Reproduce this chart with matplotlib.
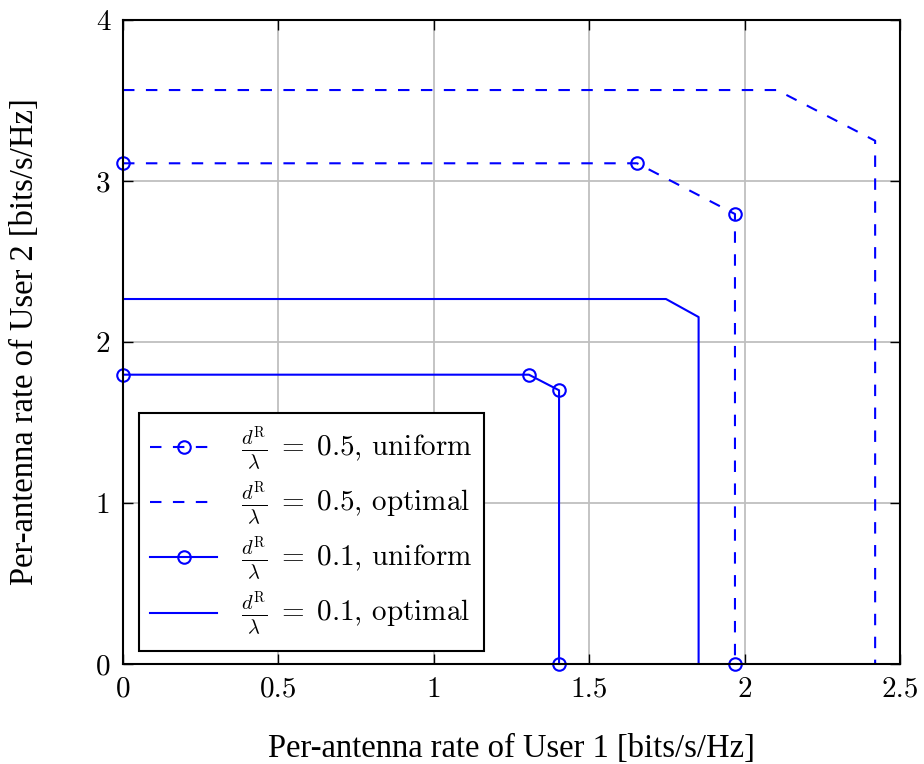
import matplotlib
matplotlib.use('Agg')
import matplotlib.pyplot as plt

plt.rcParams['mathtext.fontset'] = 'cm'
plt.rcParams['axes.formatter.use_mathtext'] = True

# rate regions, x = user 1, y = user 2
u05_x = [0.0, 1.654, 1.969, 1.969]
u05_y = [3.11, 3.11, 2.795, 0.0]
o05_x = [0.0, 2.104, 2.42, 2.42]
o05_y = [3.565, 3.565, 3.25, 0.0]
u01_x = [0.0, 1.306, 1.403, 1.403]
u01_y = [1.797, 1.797, 1.70, 0.0]
o01_x = [0.0, 1.747, 1.852, 1.852]
o01_y = [2.267, 2.267, 2.155, 0.0]

xticks = [0, 0.5, 1, 1.5, 2, 2.5]
xticklabels = ['0', '0.5', '1', '1.5', '2', '2.5']
yticks = [0, 1, 2, 3, 4]

labels = [r'$\frac{d^{\mathrm{R}}}{\lambda}\;=\;0.5$, uniform',
          r'$\frac{d^{\mathrm{R}}}{\lambda}\;=\;0.5$, optimal',
          r'$\frac{d^{\mathrm{R}}}{\lambda}\;=\;0.1$, uniform',
          r'$\frac{d^{\mathrm{R}}}{\lambda}\;=\;0.1$, optimal']

fig = plt.figure(figsize=(9.24, 7.64), dpi=100)
ax = fig.add_axes([123/924, 1-664/764, 777/924, 644/764])

lw = 1.5
dash = (0, (5.5, 5.5))
mk = dict(marker='o', markersize=9, markerfacecolor='none', markeredgewidth=1.5)

ax.plot(u05_x, u05_y, color='#0000ff', lw=lw, linestyle=dash, label=labels[0], clip_on=False, **mk)
ax.plot(o05_x, o05_y, color='#0000ff', lw=lw, linestyle=dash, label=labels[1])
ax.plot(u01_x, u01_y, color='#0000ff', lw=lw, linestyle='-', label=labels[2], clip_on=False, **mk)
ax.plot(o01_x, o01_y, color='#0000ff', lw=lw, linestyle='-', label=labels[3])

ax.set_xlim(0, 2.5)
ax.set_ylim(0, 4)
ax.set_xticks(xticks)
ax.set_xticklabels(xticklabels, family='cmr10', fontsize=21)
ax.set_yticks(yticks)
ax.set_yticklabels([str(t) for t in yticks], family='cmr10', fontsize=21)
ax.tick_params(direction='in', length=7, width=1, top=True, right=True, pad=9)
ax.grid(True, color='#bfbfbf', linewidth=1.3)
ax.set_axisbelow(True)
for s in ax.spines.values():
    s.set_linewidth(1.5)

ax.set_xlabel('Per-antenna rate of User 1 [bits/s/Hz]', family='Liberation Serif', fontsize=23.5, labelpad=22)
ax.set_ylabel('Per-antenna rate of User 2 [bits/s/Hz]', family='Liberation Serif', fontsize=23.5, labelpad=40)

leg = ax.legend(loc='lower left', bbox_to_anchor=(0.02, 0.02), prop={'family': 'cmr10', 'size': 21},
                fancybox=False, edgecolor='black', framealpha=1, handlelength=2.3,
                labelspacing=0.2, borderpad=0.4, handletextpad=0.8, borderaxespad=0)
leg.get_frame().set_linewidth(1.5)

fig.savefig('out.png', dpi=100)
